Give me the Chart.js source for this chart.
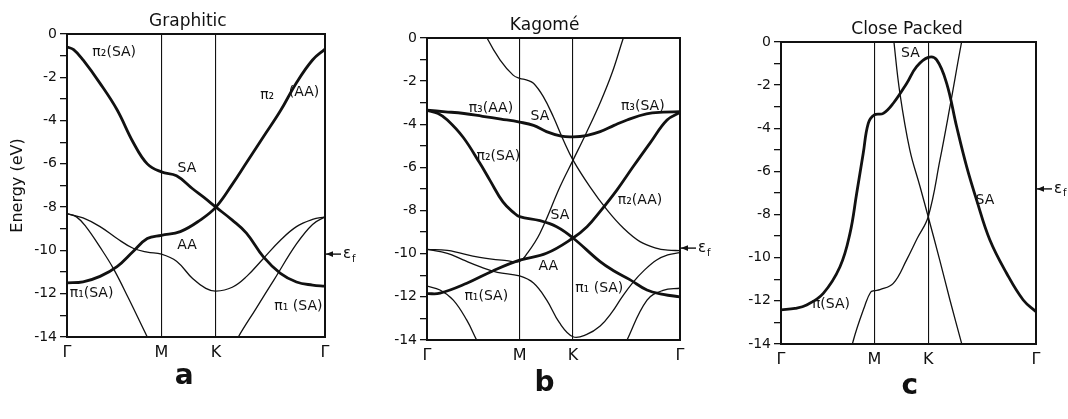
<!DOCTYPE html>
<html>
<head>
<meta charset="utf-8">
<script src="https://cdn.jsdelivr.net/npm/chart.js@4.4.0/dist/chart.umd.min.js"></script>
<style>
  html, body { margin: 0; padding: 0; background: #fff; }
  body { width: 1068px; height: 419px; position: relative; overflow: hidden; }
  canvas { position: absolute; top: 0; }
</style>
</head>
<body>
<canvas id="graphitic" width="380" height="419" style="left:0px"></canvas>
<canvas id="kagome" width="360" height="419" style="left:360px"></canvas>
<canvas id="closePacked" width="348" height="419" style="left:720px"></canvas>
<script>
// symmetry points along the path (Γ-M taken as 1)
const kTicks = [0, 1, 1.577, 2.732]
const kLabels = ['Γ', 'M', 'K', 'Γ']
const energyMin = -14
const energyMax = 0

// Graphitic bands, [k, E in eV]
const graphiticPi2 = [[0,-0.6],[0.07,-0.72],[0.17,-1.2],[0.35,-2.28],[0.53,-3.5],[0.7,-5.0],[0.85,-6.0],[1.0,-6.37],[1.16,-6.55],[1.33,-7.15],[1.45,-7.55],[1.577,-8.0],[1.75,-8.6],[1.9,-9.2],[2.08,-10.3],[2.26,-11.06],[2.43,-11.46],[2.6,-11.6],[2.732,-11.65]]
const graphiticPi1 = [[0,-11.5],[0.17,-11.45],[0.35,-11.2],[0.53,-10.75],[0.7,-10.05],[0.85,-9.45],[1.0,-9.3],[1.2,-9.13],[1.41,-8.6],[1.577,-8.0],[1.75,-6.95],[1.9,-5.95],[2.08,-4.75],[2.26,-3.55],[2.43,-2.25],[2.6,-1.2],[2.732,-0.7]]
const graphiticLowA = [[0,-8.3],[0.17,-8.5],[0.35,-8.9],[0.53,-9.45],[0.7,-9.9],[0.85,-10.08],[1.0,-10.17],[1.16,-10.5],[1.33,-11.3],[1.47,-11.75],[1.577,-11.88],[1.75,-11.7],[1.9,-11.21],[2.08,-10.37],[2.26,-9.53],[2.43,-8.9],[2.6,-8.57],[2.732,-8.45]]
const graphiticLowB = [[0,-8.3],[0.1,-8.45],[0.2,-8.9],[0.35,-9.85],[0.49,-10.83],[0.65,-12.2],[0.85,-14],[1.0,-15.3],[1.3,-16.8],[1.577,-15.9],[1.814,-14],[2.0,-12.7],[2.2,-11.3],[2.43,-9.7],[2.6,-8.8],[2.732,-8.45]]

// Kagomé bands
const kagomePi3 = [[0,-3.35],[0.2,-3.42],[0.4,-3.5],[0.6,-3.63],[0.8,-3.76],[1.0,-3.9],[1.15,-4.05],[1.29,-4.34],[1.45,-4.55],[1.577,-4.58],[1.72,-4.52],[1.87,-4.34],[2.02,-4.05],[2.16,-3.8],[2.37,-3.52],[2.55,-3.44],[2.732,-3.42]]
const kagomePi2SA = [[0,-3.35],[0.12,-3.5],[0.22,-3.8],[0.39,-4.6],[0.57,-5.8],[0.68,-6.6],[0.82,-7.6],[0.93,-8.07],[1.0,-8.28],[1.22,-8.47],[1.4,-8.75],[1.577,-9.27],[1.87,-10.37],[2.02,-10.8],[2.19,-11.2],[2.375,-11.68],[2.55,-11.88],[2.732,-12.0]]
const kagomePi2AA = [[0,-11.85],[0.14,-11.83],[0.43,-11.37],[0.71,-10.8],[1.0,-10.3],[1.29,-9.98],[1.577,-9.27],[1.728,-8.75],[1.868,-8.05],[2.05,-7.05],[2.225,-5.97],[2.408,-4.87],[2.592,-3.8],[2.732,-3.45]]
const kagomeUpperA = [[0.5,1.4],[0.648,0],[0.79,-1.02],[0.93,-1.72],[1.0,-1.87],[1.08,-1.95],[1.15,-2.1],[1.256,-2.72],[1.364,-3.65],[1.472,-4.73],[1.577,-5.66],[1.76,-6.9],[1.944,-7.97],[2.117,-8.8],[2.3,-9.44],[2.484,-9.75],[2.6,-9.83],[2.732,-9.86]]
const kagomeUpperB = [[0,-9.8],[0.22,-9.85],[0.57,-10.17],[0.86,-10.32],[1.0,-10.35],[1.08,-10.0],[1.22,-9.05],[1.436,-6.9],[1.577,-5.66],[1.72,-4.4],[1.87,-3.0],[2.0,-1.6],[2.12,0],[2.25,1.6]]
const kagomeLowA = [[0,-9.8],[0.22,-9.98],[0.39,-10.29],[0.57,-10.6],[0.76,-10.86],[1.0,-11.03],[1.15,-11.36],[1.293,-12.15],[1.43,-13.2],[1.577,-13.85],[1.72,-13.75],[1.87,-13.35],[2.0,-12.7],[2.1,-12.05],[2.22,-11.35],[2.35,-10.75],[2.48,-10.29],[2.6,-10.05],[2.732,-9.95]]
const kagomeLowB = [[0,-11.5],[0.14,-11.68],[0.284,-12.15],[0.428,-13.07],[0.536,-14],[0.8,-16.2],[1.2,-18],[1.8,-17],[2.0,-15.5],[2.16,-14],[2.376,-12.15],[2.55,-11.7],[2.732,-11.6]]

// Close packed bands
const closePi = [[0,-12.42],[0.15,-12.35],[0.275,-12.19],[0.453,-11.65],[0.632,-10.42],[0.739,-8.87],[0.811,-7.01],[0.881,-5.16],[0.935,-3.77],[1.0,-3.38],[1.096,-3.31],[1.203,-2.84],[1.346,-1.92],[1.453,-1.14],[1.578,-0.71],[1.668,-0.83],[1.775,-1.92],[1.882,-3.93],[1.989,-5.78],[2.096,-7.33],[2.238,-9.18],[2.417,-10.72],[2.595,-11.96],[2.732,-12.5]]
const closeSA1 = [[1.15,2.5],[1.21,0],[1.274,-2.38],[1.38,-5.0],[1.49,-6.71],[1.577,-8.1],[1.7,-10.1],[1.81,-11.96],[1.935,-13.97],[2.05,-15.8]]
const closeSA2 = [[0.6,-17],[0.774,-13.85],[0.9,-12.2],[0.96,-11.6],[1.0,-11.53],[1.06,-11.48],[1.203,-11.19],[1.346,-10.1],[1.46,-9.1],[1.577,-8.1],[1.703,-5.47],[1.81,-3.0],[1.935,0],[2.05,2.5]]

// Fermi levels
const graphiticFermi = -10.17
const kagomeFermi = -9.74
const closeFermi = -6.81

const ink = '#111'
const fontFamily = '"DejaVu Sans", "Liberation Sans", sans-serif'

const decorations = {
  id: 'decorations',
  afterDraw(chart, args, opts) {
    const { ctx, chartArea: a, scales: { x, y } } = chart
    ctx.save()
    ctx.strokeStyle = ink
    ctx.fillStyle = ink
    ctx.lineWidth = 2
    ctx.strokeRect(a.left, a.top, a.right - a.left, a.bottom - a.top)

    // title
    ctx.font = `17px ${fontFamily}`
    ctx.textAlign = 'center'
    ctx.textBaseline = 'alphabetic'
    ctx.fillText(opts.title, x.getPixelForValue(opts.titleAt), a.top - 8)

    // panel letter
    ctx.font = `bold 28px ${fontFamily}`
    ctx.fillText(opts.letter, x.getPixelForValue(opts.letterAt), a.bottom + opts.letterDrop)

    // band labels
    ctx.font = `14px ${fontFamily}`
    ctx.textBaseline = 'middle'
    opts.labels.forEach((l) => {
      ctx.fillText(l.text, x.getPixelForValue(l.k), y.getPixelForValue(l.e))
    })

    // fermi level arrow
    const ey = y.getPixelForValue(opts.fermi)
    ctx.lineWidth = 1.4
    ctx.beginPath()
    ctx.moveTo(a.right, ey)
    ctx.lineTo(a.right + 16, ey)
    ctx.stroke()
    ctx.beginPath()
    ctx.moveTo(a.right + 1, ey)
    ctx.lineTo(a.right + 8, ey - 2.8)
    ctx.lineTo(a.right + 8, ey + 2.8)
    ctx.closePath()
    ctx.fill()
    ctx.textAlign = 'left'
    ctx.font = `15px ${fontFamily}`
    ctx.fillText('ε', a.right + 18, ey)
    ctx.font = `10px ${fontFamily}`
    ctx.fillText('f', a.right + 27, ey + 5)

    // axis title
    if (opts.yTitle) {
      ctx.translate(a.left - 49, (a.top + a.bottom) / 2)
      ctx.rotate(-Math.PI / 2)
      ctx.textAlign = 'center'
      ctx.font = `16px ${fontFamily}`
      ctx.fillText(opts.yTitle, 0, 0)
    }
    ctx.restore()
  },
}

const makeDataset = (values, thick) => ({
  data: values,
  showLine: true,
  borderColor: ink,
  borderWidth: thick ? 2.8 : 1.3,
  pointRadius: 0,
  tension: 0.4,
  fill: false,
  clip: 0,
})

const drawPanel = (canvasId, bands, padding, deco) => {
  return new Chart(document.getElementById(canvasId), {
    type: 'scatter',
    data: {
      datasets: bands.map((b) => makeDataset(b.values, b.thick)),
    },
    options: {
      responsive: false,
      animation: false,
      layout: { padding },
      plugins: {
        legend: { display: false },
        tooltip: { enabled: false },
        decorations: deco,
      },
      scales: {
        x: {
          type: 'linear',
          min: kTicks[0],
          max: kTicks[kTicks.length - 1],
          afterBuildTicks: (scale) => {
            scale.ticks = kTicks.map((v) => ({ value: v }))
          },
          afterFit: (scale) => {
            scale.height = 30
          },
          ticks: {
            autoSkip: false,
            maxRotation: 0,
            padding: 6,
            color: ink,
            font: { family: fontFamily, size: 16 },
            callback: (v, i) => kLabels[i],
          },
          grid: {
            drawTicks: false,
            lineWidth: 1.1,
            color: (c) => (c.index === 1 || c.index === 2 ? ink : 'rgba(0,0,0,0)'),
          },
          border: { display: false },
        },
        y: {
          min: energyMin,
          max: energyMax,
          afterFit: (scale) => {
            scale.width = 40
          },
          ticks: {
            stepSize: 1,
            padding: 3,
            color: ink,
            font: { family: fontFamily, size: 14 },
            callback: (v) => (v % 2 === 0 ? String(v) : ''),
          },
          grid: {
            drawOnChartArea: false,
            drawTicks: true,
            tickLength: 7,
            tickColor: ink,
            lineWidth: 1.3,
          },
          border: { display: false },
        },
      },
    },
    plugins: [decorations],
  })
}

drawPanel(
  'graphitic',
  [
    { values: graphiticPi2, thick: true },
    { values: graphiticPi1, thick: true },
    { values: graphiticLowA, thick: false },
    { values: graphiticLowB, thick: false },
  ],
  { left: 27, right: 55, top: 34, bottom: 52 },
  {
    title: 'Graphitic',
    titleAt: 1.28,
    letter: 'a',
    letterAt: 1.24,
    letterDrop: 47,
    fermi: graphiticFermi,
    yTitle: 'Energy (eV)',
    labels: [
      { text: 'π₂(SA)', k: 0.5, e: -0.85 },
      { text: 'π₂', k: 2.12, e: -2.85 },
      { text: '(AA)', k: 2.51, e: -2.68 },
      { text: 'SA', k: 1.27, e: -6.21 },
      { text: 'AA', k: 1.27, e: -9.75 },
      { text: 'π₁(SA)', k: 0.26, e: -11.98 },
      { text: 'π₁ (SA)', k: 2.45, e: -12.6 },
    ],
  }
)

drawPanel(
  'kagome',
  [
    { values: kagomePi3, thick: true },
    { values: kagomePi2SA, thick: true },
    { values: kagomePi2AA, thick: true },
    { values: kagomeUpperA, thick: false },
    { values: kagomeUpperB, thick: false },
    { values: kagomeLowA, thick: false },
    { values: kagomeLowB, thick: false },
  ],
  { left: 27, right: 40, top: 38, bottom: 49 },
  {
    title: 'Kagomé',
    titleAt: 1.27,
    letter: 'b',
    letterAt: 1.27,
    letterDrop: 51,
    fermi: kagomeFermi,
    labels: [
      { text: 'π₃(AA)', k: 0.69, e: -3.26 },
      { text: 'SA', k: 1.22, e: -3.65 },
      { text: 'π₃(SA)', k: 2.33, e: -3.18 },
      { text: 'π₂(SA)', k: 0.77, e: -5.5 },
      { text: 'π₂(AA)', k: 2.3, e: -7.51 },
      { text: 'SA', k: 1.436, e: -8.21 },
      { text: 'AA', k: 1.31, e: -10.6 },
      { text: 'π₁(SA)', k: 0.64, e: -11.99 },
      { text: 'π₁ (SA)', k: 1.86, e: -11.6 },
    ],
  }
)

drawPanel(
  'closePacked',
  [
    { values: closePi, thick: true },
    { values: closeSA1, thick: false },
    { values: closeSA2, thick: false },
  ],
  { left: 21, right: 32, top: 42, bottom: 45 },
  {
    title: 'Close Packed',
    titleAt: 1.35,
    letter: 'c',
    letterAt: 1.38,
    letterDrop: 50,
    fermi: closeFermi,
    labels: [
      { text: 'SA', k: 1.387, e: -0.53 },
      { text: 'SA', k: 2.185, e: -7.33 },
      { text: 'π(SA)', k: 0.535, e: -12.15 },
    ],
  }
)
</script>
</body>
</html>
